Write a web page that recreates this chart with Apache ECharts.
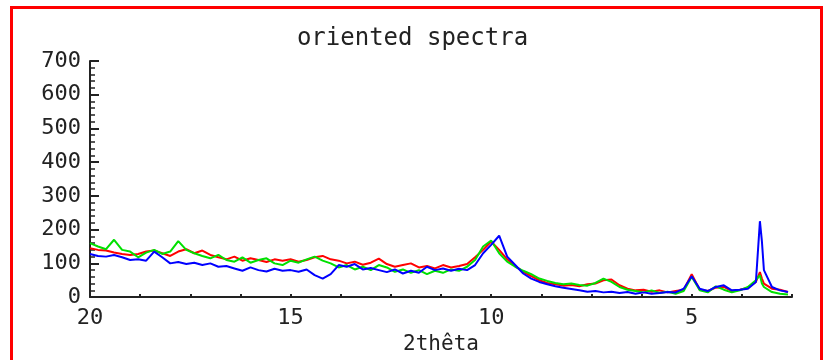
<!doctype html>
<html lang="en">
<head>
    <meta charset="UTF-8" />
    <title>oriented spectra</title>
    <style>
        html, body { margin: 0; padding: 0; background: #fff; }
    </style>
</head>
<body>
    <div id="main" style="width:825px;height:360px"></div>

    <script src="https://cdn.jsdelivr.net/npm/echarts@6.0.0/dist/echarts.min.js"></script>
    <script type="text/javascript">
        // 2theta positions shared by the three spectra
        var twoTheta = [20.0, 19.8, 19.6, 19.4, 19.2, 19.0, 18.8, 18.6, 18.4, 18.2,
            18.0, 17.8, 17.6, 17.4, 17.2, 17.0, 16.8, 16.6, 16.4, 16.2,
            16.0, 15.8, 15.6, 15.4, 15.2, 15.0, 14.8, 14.6, 14.4, 14.2,
            14.0, 13.8, 13.6, 13.4, 13.2, 13.0, 12.8, 12.6, 12.4, 12.2,
            12.0, 11.8, 11.6, 11.4, 11.2, 11.0, 10.8, 10.6, 10.4, 10.2,
            10.0, 9.8, 9.6, 9.4, 9.2, 9.0, 8.8, 8.6, 8.4, 8.2,
            8.0, 7.8, 7.6, 7.4, 7.2, 7.0, 6.8, 6.6, 6.4, 6.2,
            6.0, 5.8, 5.6, 5.4, 5.2, 5.0, 4.8, 4.6, 4.4, 4.2,
            4.0, 3.8, 3.6, 3.4, 3.3, 3.25, 3.2, 3.0, 2.8, 2.6];

        var redCounts = [145, 140, 138, 132, 128, 125, 128, 135, 138, 130,
            122, 135, 142, 130, 138, 125, 118, 112, 120, 108,
            115, 110, 104, 112, 108, 112, 105, 110, 118, 122,
            112, 108, 100, 105, 96, 102, 114, 98, 90, 95,
            100, 88, 92, 85, 95, 88, 92, 98, 118, 140,
            165, 140, 112, 92, 75, 62, 50, 42, 38, 34,
            36, 32, 38, 40, 50, 52, 35, 25, 20, 22,
            16, 20, 14, 18, 22, 68, 22, 18, 28, 30,
            18, 22, 28, 45, 74, 55, 40, 25, 22, 15];

        var greenCounts = [160, 150, 142, 170, 140, 135, 118, 132, 140, 128,
            135, 166, 140, 130, 122, 115, 125, 110, 105, 118,
            102, 110, 115, 100, 95, 108, 102, 112, 120, 108,
            100, 88, 95, 82, 90, 80, 95, 88, 75, 82,
            72, 80, 68, 78, 72, 82, 78, 90, 110, 150,
            168, 130, 105, 90, 78, 68, 55, 48, 42, 38,
            40, 36, 34, 42, 55, 45, 30, 22, 18, 14,
            20, 12, 16, 10, 18, 60, 20, 14, 32, 22,
            14, 20, 30, 50, 65, 40, 30, 15, 10, 8];

        var blueCounts = [128, 122, 120, 125, 118, 110, 112, 108, 135, 118,
            100, 104, 98, 102, 95, 100, 90, 92, 85, 78,
            88, 80, 76, 84, 78, 80, 75, 82, 65, 55,
            68, 95, 90, 98, 82, 86, 80, 74, 82, 70,
            78, 72, 90, 80, 85, 78, 84, 80, 95, 130,
            155, 182, 120, 95, 70, 55, 45, 38, 32, 28,
            24, 20, 16, 18, 14, 16, 12, 15, 10, 14,
            10, 12, 15, 14, 25, 62, 25, 18, 30, 35,
            20, 22, 25, 45, 225, 165, 80, 30, 20, 15];

        var yTicks = [0, 100, 200, 300, 400, 500, 600, 700];
        var xLabels = [20, 15, 10, 5];

        function pairs(ys) {
            var out = [];
            for (var i = 0; i < twoTheta.length; i++) {
                out.push([twoTheta[i], ys[i]]);
            }
            return out;
        }

        var chart = echarts.init(document.getElementById('main'));
        var font = 'DejaVu Sans Mono';
        var ink = '#222';

        var option = {
            backgroundColor: '#fff',
            animation: false,
            title: {
                text: 'oriented spectra',
                left: 'center',
                top: 22,
                textStyle: { fontFamily: font, fontSize: 24, fontWeight: 'normal', color: ink }
            },
            graphic: [{
                type: 'rect',
                shape: { x: 11.5, y: 7.5, width: 810, height: 360 },
                style: { fill: 'none', stroke: '#ff0000', lineWidth: 3 },
                silent: true
            }],
            grid: { left: 90, right: 33, top: 61, bottom: 57.5 },
            xAxis: {
                type: 'value',
                inverse: true,
                min: 2.5,
                max: 20,
                interval: 1.25,
                offset: 4,
                name: '2thêta',
                nameLocation: 'middle',
                nameGap: 23,
                nameTextStyle: { fontFamily: font, fontSize: 21, color: ink },
                axisLine: { lineStyle: { color: ink, width: 2 } },
                axisTick: { inside: true, length: 3, lineStyle: { color: ink, width: 2 } },
                axisLabel: {
                    fontFamily: font, fontSize: 22, color: ink, margin: 6,
                    formatter: function (v) {
                        return xLabels.indexOf(v) >= 0 ? String(v) : '';
                    }
                },
                splitLine: { show: false }
            },
            yAxis: {
                type: 'value',
                min: 0,
                max: 700,
                interval: 100,
                axisLine: { show: true, lineStyle: { color: ink, width: 2 } },
                axisTick: { show: true, inside: true, length: 9, lineStyle: { color: ink, width: 2 } },
                minorTick: { show: true, splitNumber: 5, length: 5, lineStyle: { color: ink, width: 1.5 } },
                axisLabel: {
                    fontFamily: font, fontSize: 22, color: ink, margin: 9,
                    formatter: function (v) {
                        return yTicks.indexOf(v) >= 0 ? String(v) : '';
                    }
                },
                splitLine: { show: false }
            },
            series: [{
                name: 'red',
                type: 'line',
                data: pairs(redCounts),
                showSymbol: false,
                lineStyle: { color: '#ff0000', width: 2 }
            }, {
                name: 'green',
                type: 'line',
                data: pairs(greenCounts),
                showSymbol: false,
                lineStyle: { color: '#00e000', width: 2 }
            }, {
                name: 'blue',
                type: 'line',
                data: pairs(blueCounts),
                showSymbol: false,
                lineStyle: { color: '#0000ff', width: 2 }
            }]
        };

        chart.setOption(option);
    </script>
</body>
</html>
